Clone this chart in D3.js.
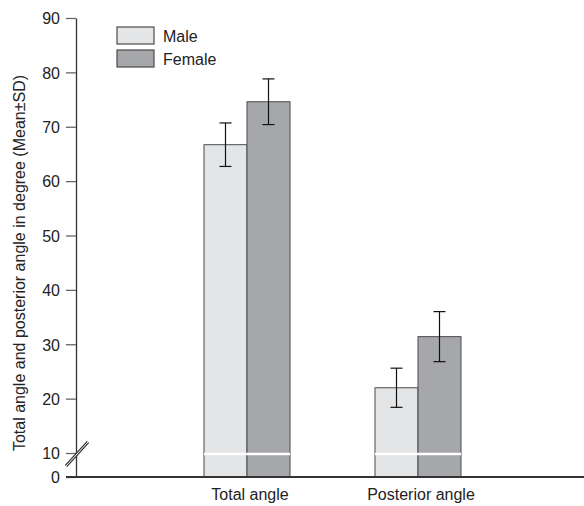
<!DOCTYPE html>
<html><head><meta charset="utf-8">
<script src="https://cdn.jsdelivr.net/npm/d3@7"></script>
<style>body{margin:0;background:#fff}svg{display:block}text{font-family:"Liberation Sans",Arial,sans-serif;fill:#222}</style>
</head><body><svg id="c" width="584" height="506"></svg>
<script>
const categories = ["Total angle", "Posterior angle"];
const seriesNames = ["Male", "Female"];
const maleMean = [66.7, 22.0];
const maleSD = [4.0, 3.6];
const femaleMean = [74.6, 31.4];
const femaleSD = [4.2, 4.6];
const yTicks = [0, 10, 20, 30, 40, 50, 60, 70, 80, 90];
const colors = ["#e4e5e7", "#a6a7aa"];

const svg = d3.select("#c");
const axisX = 76, baseY = 477;
// broken axis: 0..10 compressed
const y = d3.scaleLinear().domain([0, 10, 90]).range([baseY, 453, 18]);
const x0 = d3.scalePoint().domain(categories).range([247, 418]);
const x1 = d3.scaleBand().domain(seriesNames).range([-43, 43]);

const data = categories.map((c, i) => ({
  cat: c,
  vals: [
    {s: "Male", m: maleMean[i], sd: maleSD[i]},
    {s: "Female", m: femaleMean[i], sd: femaleSD[i]}
  ]
}));

const g = svg.selectAll("g.grp").data(data).join("g")
  .attr("transform", d => `translate(${x0(d.cat)},0)`);
g.selectAll("rect").data(d => d.vals).join("rect")
  .attr("x", d => x1(d.s)).attr("width", x1.bandwidth())
  .attr("y", d => y(d.m)).attr("height", d => baseY - y(d.m))
  .attr("fill", (d, i) => colors[i]).attr("stroke", "#4a4a4a").attr("stroke-width", 1);
// white break line across bars
g.append("line").attr("x1", x1("Male")).attr("x2", x1("Female") + x1.bandwidth())
  .attr("y1", y(10) + 1).attr("y2", y(10) + 1).attr("stroke", "#fff").attr("stroke-width", 2.5);
// error bars
const eb = g.selectAll("g.eb").data(d => d.vals).join("g")
  .attr("transform", d => `translate(${x1(d.s) + x1.bandwidth() / 2},0)`)
  .attr("stroke", "#111").attr("stroke-width", 1.2);
eb.append("line").attr("y1", d => y(d.m + d.sd)).attr("y2", d => y(d.m - d.sd));
eb.append("line").attr("x1", -6).attr("x2", 6).attr("y1", d => y(d.m + d.sd)).attr("y2", d => y(d.m + d.sd));
eb.append("line").attr("x1", -6).attr("x2", 6).attr("y1", d => y(d.m - d.sd)).attr("y2", d => y(d.m - d.sd));

// y axis
const ya = svg.append("g").attr("transform", `translate(${axisX},0)`)
  .call(d3.axisLeft(y).tickValues(yTicks).tickSize(10).tickPadding(6).tickSizeOuter(0));
ya.select(".domain").attr("stroke", "#333").attr("stroke-width", 1.3);
ya.selectAll(".tick line").attr("stroke", "#666").attr("stroke-width", 1.3);
ya.selectAll(".tick text").style("font-size", "16px").style("font-family", "Liberation Sans, Arial, sans-serif").attr("fill", "#222").attr("dy", "0.36em");

// x axis baseline
svg.append("line").attr("x1", 66).attr("x2", 584).attr("y1", baseY).attr("y2", baseY)
  .attr("stroke", "#333").attr("stroke-width", 2);
svg.selectAll("text.xl").data(categories).join("text").attr("class", "xl")
  .attr("x", d => x0(d) + 3).attr("y", 500).attr("text-anchor", "middle")
  .style("font-size", "16px").text(d => d);

// axis break marks
svg.append("line").attr("x1", 66).attr("y1", 466).attr("x2", 88).attr("y2", 442)
  .attr("stroke", "#333").attr("stroke-width", 3.2);
svg.append("line").attr("x1", 66).attr("y1", 466).attr("x2", 88).attr("y2", 442)
  .attr("stroke", "#fff").attr("stroke-width", 1);

// y title
svg.append("text").attr("transform", "translate(25,263) rotate(-90)")
  .attr("text-anchor", "middle").style("font-size", "16px")
  .text("Total angle and posterior angle in degree (Mean±SD)");

// legend
const lg = svg.selectAll("g.lg").data(seriesNames).join("g")
  .attr("transform", (d, i) => `translate(117,${27 + i * 23})`);
lg.append("rect").attr("width", 37).attr("height", 17)
  .attr("fill", (d, i) => colors[i]).attr("stroke", "#4a4a4a").attr("stroke-width", 1.2);
lg.append("text").attr("x", 46).attr("y", 15).style("font-size", "16px").text(d => d);
</script></body></html>
